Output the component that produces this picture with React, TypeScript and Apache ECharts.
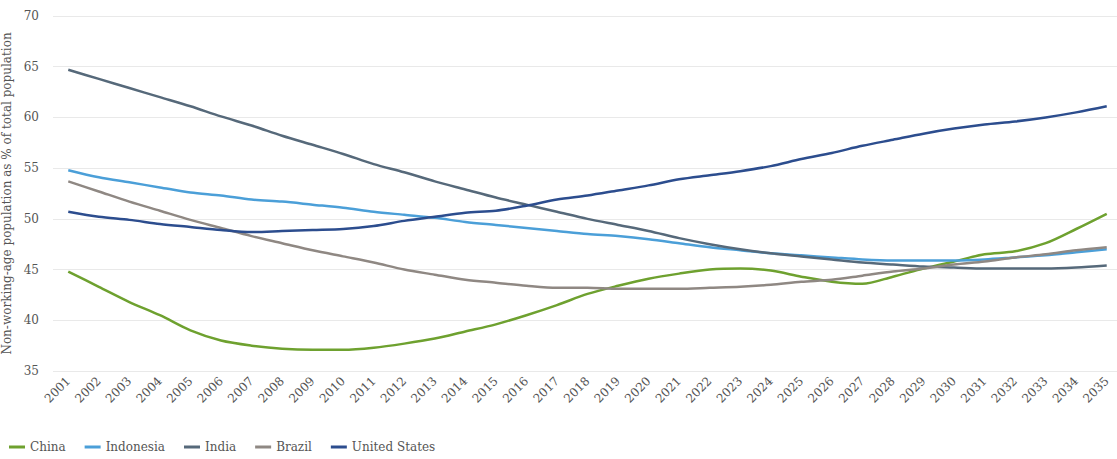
import React, { useEffect, useRef } from "react";
import * as echarts from "echarts";

const years = [
  "2001","2002","2003","2004","2005","2006","2007","2008","2009","2010",
  "2011","2012","2013","2014","2015","2016","2017","2018","2019","2020",
  "2021","2022","2023","2024","2025","2026","2027","2028","2029","2030",
  "2031","2032","2033","2034","2035",
];

const china = [
  44.8, 43.3, 41.8, 40.5, 39.0, 38.0, 37.5, 37.2, 37.1, 37.1,
  37.3, 37.7, 38.2, 38.9, 39.6, 40.5, 41.5, 42.6, 43.4, 44.1,
  44.6, 45.0, 45.1, 44.9, 44.3, 43.8, 43.6, 44.3, 45.1, 45.8,
  46.5, 46.8, 47.6, 49.0, 50.5,
];
const indonesia = [
  54.8, 54.1, 53.6, 53.1, 52.6, 52.3, 51.9, 51.7, 51.4, 51.1,
  50.7, 50.4, 50.1, 49.7, 49.4, 49.1, 48.8, 48.5, 48.3, 48.0,
  47.6, 47.2, 46.9, 46.6, 46.4, 46.2, 46.0, 45.9, 45.9, 45.9,
  46.0, 46.2, 46.4, 46.7, 47.0,
];
const india = [
  64.7, 63.8, 62.9, 62.0, 61.1, 60.1, 59.2, 58.2, 57.3, 56.4,
  55.4, 54.6, 53.7, 52.9, 52.1, 51.4, 50.7, 50.0, 49.4, 48.8,
  48.1, 47.5, 47.0, 46.6, 46.3, 46.0, 45.7, 45.5, 45.3, 45.2,
  45.1, 45.1, 45.1, 45.2, 45.4,
];
const brazil = [
  53.7, 52.7, 51.7, 50.8, 49.9, 49.1, 48.3, 47.6, 46.9, 46.3,
  45.7, 45.0, 44.5, 44.0, 43.7, 43.4, 43.2, 43.2, 43.1, 43.1,
  43.1, 43.2, 43.3, 43.5, 43.8, 44.0, 44.4, 44.8, 45.1, 45.5,
  45.8, 46.2, 46.5, 46.9, 47.2,
];
const unitedStates = [
  50.7, 50.2, 49.9, 49.5, 49.2, 48.9, 48.7, 48.8, 48.9, 49.0,
  49.3, 49.8, 50.2, 50.6, 50.8, 51.3, 51.9, 52.3, 52.8, 53.3,
  53.9, 54.3, 54.7, 55.2, 55.9, 56.5, 57.2, 57.8, 58.4, 58.9,
  59.3, 59.6, 60.0, 60.5, 61.1,
];

const seriesNames = ["China", "Indonesia", "India", "Brazil", "United States"];
const seriesData = [china, indonesia, india, brazil, unitedStates];
const colors = ["#6ea12f", "#4b9fd8", "#56697a", "#8f8883", "#2c4d8e"];

const FONT = "'DejaVu Serif', serif";

export default function App() {
  const ref = useRef<HTMLDivElement>(null);
  useEffect(() => {
    if (!ref.current) return;
    const chart = echarts.init(ref.current, undefined, { renderer: "svg" });
    chart.setOption({
      animation: false,
      color: colors,
      grid: {
        left: 53,
        right: -5,
        top: 16,
        bottom: 88,
        containLabel: false,
        outerBoundsMode: "none",
      },
      legend: {
        left: 4,
        bottom: 1,
        icon: "rect",
        itemWidth: 16,
        itemHeight: 3,
        itemGap: 19,
        textStyle: { fontFamily: FONT, fontSize: 12, color: "#555" },
        data: seriesNames,
      },
      xAxis: {
        type: "category",
        data: years,
        boundaryGap: true,
        axisLine: { show: false },
        axisTick: { show: false },
        axisLabel: {
          rotate: 45,
          interval: 0,
          fontFamily: FONT,
          fontSize: 12,
          color: "#555",
          margin: 8,
        },
      },
      yAxis: {
        type: "value",
        min: 35,
        max: 70,
        interval: 5,
        name: "Non-working-age population as % of total population",
        nameLocation: "middle",
        nameGap: 37,
        nameTextStyle: { fontFamily: FONT, fontSize: 12, color: "#555" },
        axisLine: { show: false },
        axisTick: { show: false },
        axisLabel: { fontFamily: FONT, fontSize: 12, color: "#555", margin: 14 },
        splitLine: { lineStyle: { color: "#e9e9e9", width: 1 } },
      },
      series: seriesNames.map((name, i) => ({
        name,
        type: "line",
        data: seriesData[i],
        smooth: 0.3,
        symbol: "none",
        lineStyle: { width: 2.5, color: colors[i] },
      })),
    });
    return () => chart.dispose();
  }, []);
  return (
    <div
      ref={ref}
      style={{ position: "absolute", left: 0, top: 0, width: 1117, height: 459 }}
    />
  );
}
